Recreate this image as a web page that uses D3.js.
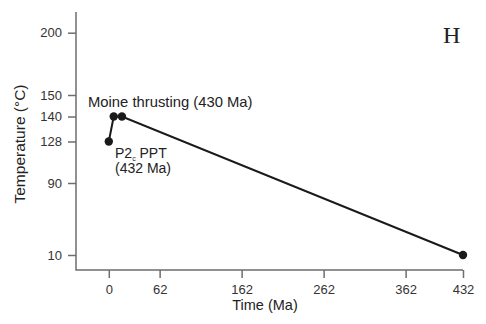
<!DOCTYPE html>
<html>
<head>
<style>
  body { margin: 0; background: #fff; }
  text { font-family: "Liberation Sans", Arial, sans-serif; fill: #222; }
  .axis line { stroke: #6e6e6e; stroke-width: 1.5; }
  .axis text { font-size: 13px; fill: #333; }
</style>
</head>
<body>
<div id="chart"></div>
<script src="https://cdn.jsdelivr.net/npm/d3@7"></script>
<script>
// data
var times = [0, 6, 16, 432];
var temps = [128, 140, 140, 10];
var xTicks = [0, 62, 162, 262, 362, 432];
var yTicks = [10, 90, 128, 140, 150, 200];

var width = 486, height = 324;
var plotL = 76, plotR = 463, plotT = 12, plotB = 270;

var svg = d3.select("#chart").append("svg")
    .attr("width", width).attr("height", height);

var x = d3.scaleLinear().domain([-40, 432]).range([plotL, plotR]);

// the y axis is schematic: labelled ticks are not evenly spaced
var y = d3.scaleLinear()
    .domain(yTicks)
    .range([255, 183, 141.5, 116.5, 95, 32.7]);

var xAxis = svg.append("g").attr("class", "axis")
    .attr("transform", "translate(0," + plotB + ")")
    .call(d3.axisBottom(x).tickValues(xTicks).tickSize(8).tickPadding(7));
xAxis.select(".domain").remove();

var yAxis = svg.append("g").attr("class", "axis")
    .attr("transform", "translate(" + plotL + ",0)")
    .call(d3.axisLeft(y).tickValues(yTicks).tickSize(8).tickPadding(6));
yAxis.select(".domain").remove();

// axis lines
svg.append("path")
    .attr("d", "M" + plotL + "," + plotT + "V" + plotB + "H" + plotR)
    .attr("fill", "none").attr("stroke", "#6e6e6e").attr("stroke-width", 1.5);

// axis titles
svg.append("text")
    .attr("x", 265).attr("y", 310)
    .attr("text-anchor", "middle").style("font-size", "14.5px")
    .text("Time (Ma)");

svg.append("text")
    .attr("transform", "translate(25,144) rotate(-90)")
    .attr("text-anchor", "middle").style("font-size", "15.5px")
    .text("Temperature (°C)");

// path and points
var pts = times.map(function (t, i) { return [t, temps[i]]; });
var line = d3.line().x(function (d) { return x(d[0]); }).y(function (d) { return y(d[1]); });

svg.append("path").datum(pts)
    .attr("d", line)
    .attr("fill", "none").attr("stroke", "#1a1a1a").attr("stroke-width", 2);

svg.selectAll("circle.pt").data(pts).enter().append("circle")
    .attr("class", "pt")
    .attr("cx", function (d) { return x(d[0]); })
    .attr("cy", function (d) { return y(d[1]); })
    .attr("r", 4.2)
    .attr("fill", "#1a1a1a");

// annotations
svg.append("text").attr("x", 88).attr("y", 107)
    .style("font-size", "14.8px").text("Moine thrusting (430 Ma)");

var p2 = svg.append("text").attr("x", 115).attr("y", 157.5).style("font-size", "14px");
p2.append("tspan").text("P2");
p2.append("tspan").attr("dy", 3).style("font-size", "7px").text("c");
p2.append("tspan").attr("dy", -3).text(" PPT");

svg.append("text").attr("x", 115).attr("y", 173)
    .style("font-size", "14px").text("(432 Ma)");

svg.append("text").attr("x", 443).attr("y", 42.5)
    .style("font-family", "'Liberation Serif', 'Times New Roman', serif")
    .style("font-size", "24px").text("H");
</script>
</body>
</html>
